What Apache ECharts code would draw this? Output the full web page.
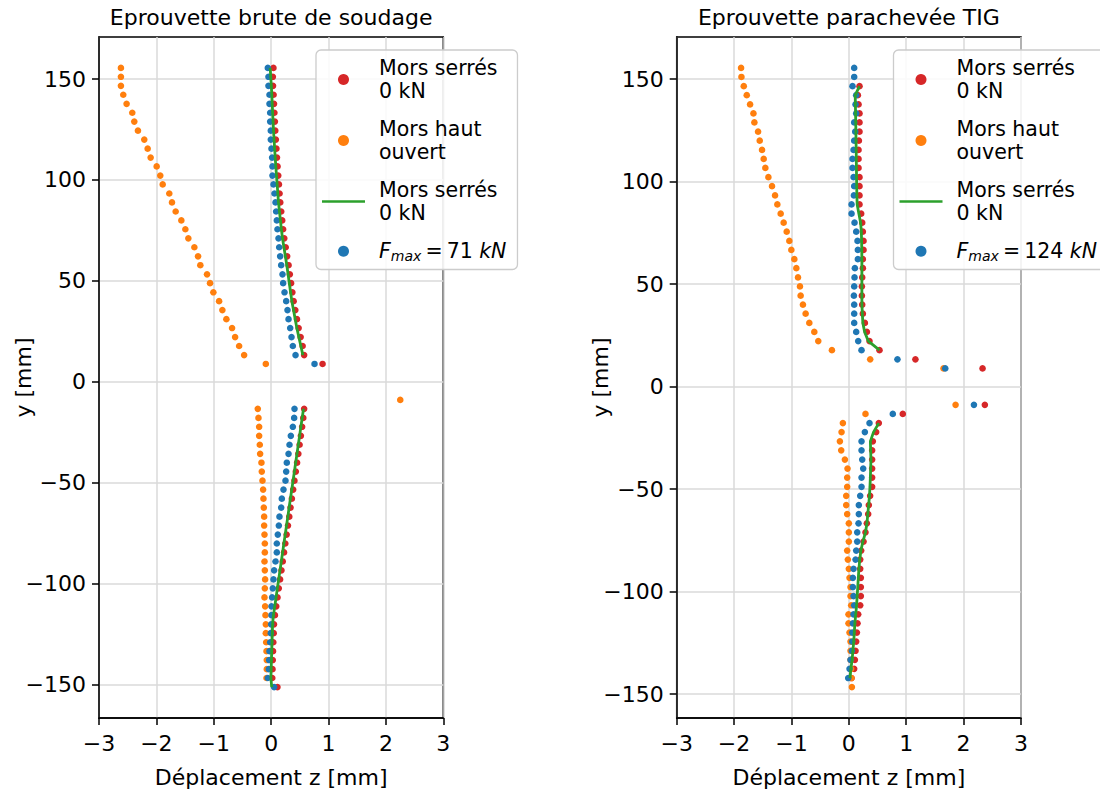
<!DOCTYPE html>
<html>
<head>
<meta charset="utf-8">
<script src="https://cdn.jsdelivr.net/npm/echarts@6.0.0/dist/echarts.min.js"></script>
<style>
html,body{margin:0;padding:0;background:#fff;}
#chart{width:1100px;height:792px;}
</style>
</head>
<body>
<div id="chart"></div>
<script>
// ---------- DATA ----------
// Vertical positions (mm) of the measurement points
var yUpper = [155.5, 151.1, 146.6, 142.2, 137.7, 133.3, 128.9, 124.4, 120.0, 115.5, 111.1, 106.7, 102.2, 97.8, 93.3, 88.9, 84.4, 80.0, 75.6, 71.1, 66.7, 62.2, 57.8, 53.3, 48.9, 44.4, 40.0, 35.6, 31.1, 26.7, 22.2, 17.8, 13.3, 8.9];
var yLower = [-8.9, -13.3, -17.8, -22.2, -26.7, -31.1, -35.6, -40.0, -44.4, -48.9, -53.3, -57.8, -62.2, -66.7, -71.1, -75.6, -80.0, -84.4, -88.9, -93.3, -97.8, -102.2, -106.7, -111.1, -115.5, -120.0, -124.4, -128.9, -133.3, -137.7, -142.2, -146.6, -151.1];

// Left panel: Eprouvette brute de soudage (displacement z, mm)
var leftRedUp = [0.04, 0.03, 0.033, 0.043, 0.05, 0.057, 0.065, 0.072, 0.082, 0.092, 0.102, 0.112, 0.124, 0.136, 0.147, 0.159, 0.176, 0.193, 0.209, 0.229, 0.254, 0.279, 0.304, 0.326, 0.348, 0.37, 0.392, 0.421, 0.45, 0.479, 0.514, 0.549, 0.575, 0.896];
var leftOrangeUp = [-2.618, -2.618, -2.618, -2.577, -2.519, -2.420, -2.385, -2.321, -2.211, -2.152, -2.100, -1.995, -1.932, -1.890, -1.775, -1.728, -1.664, -1.565, -1.495, -1.443, -1.338, -1.274, -1.234, -1.117, -1.065, -1.007, -0.907, -0.850, -0.780, -0.681, -0.628, -0.558, -0.471, -0.093];
var leftGreenUp = [-0.017, -0.007, 0.003, 0.012, 0.019, 0.026, 0.034, 0.041, 0.051, 0.061, 0.071, 0.081, 0.093, 0.105, 0.116, 0.128, 0.145, 0.162, 0.178, 0.198, 0.223, 0.248, 0.273, 0.295, 0.317, 0.339, 0.361, 0.390, 0.419, 0.448, 0.483, 0.518, 0.553, null];
var leftBlueUp = [-0.058, -0.047, -0.047, -0.029, -0.029, -0.017, -0.017, -0.006, -0.006, 0.006, 0.017, 0.023, 0.023, 0.041, 0.058, 0.076, 0.087, 0.099, 0.110, 0.128, 0.140, 0.157, 0.175, 0.198, 0.209, 0.233, 0.262, 0.285, 0.303, 0.332, 0.355, 0.378, 0.425, 0.756];

var leftRedLow = [null, 0.575, 0.560, 0.540, 0.518, 0.496, 0.474, 0.452, 0.430, 0.406, 0.384, 0.361, 0.338, 0.316, 0.293, 0.270, 0.247, 0.225, 0.202, 0.180, 0.156, 0.133, 0.111, 0.089, 0.066, 0.050, 0.044, 0.038, 0.033, 0.028, 0.024, 0.020, 0.110];
var leftOrangeLow = [2.25, -0.233, -0.221, -0.209, -0.209, -0.198, -0.192, -0.169, -0.163, -0.151, -0.140, -0.134, -0.128, -0.122, -0.122, -0.116, -0.110, -0.110, -0.116, -0.110, -0.105, -0.110, -0.116, -0.105, -0.099, -0.093, -0.093, -0.087, -0.081, -0.076, -0.076, -0.081, null];
var leftGreenLow = [null, 0.564, 0.541, 0.518, 0.496, 0.473, 0.450, 0.427, 0.405, 0.382, 0.359, 0.336, 0.313, 0.291, 0.268, 0.245, 0.222, 0.200, 0.177, 0.154, 0.131, 0.108, 0.086, 0.063, 0.040, 0.025, 0.020, 0.015, 0.010, 0.005, 0.000, -0.005, 0.010];
var leftBlueLow = [null, 0.407, 0.401, 0.378, 0.343, 0.320, 0.303, 0.273, 0.262, 0.250, 0.215, 0.186, 0.175, 0.145, 0.134, 0.116, 0.099, 0.099, 0.076, 0.052, 0.041, 0.029, 0.017, 0.006, 0.006, 0.000, -0.006, -0.017, -0.029, -0.035, -0.041, -0.058, 0.052];

// Right panel: Eprouvette parachevée TIG
var rightRedUp = [null, null, 0.186, 0.157, 0.169, 0.186, 0.186, 0.186, 0.175, 0.169, 0.169, 0.169, 0.186, 0.186, 0.186, 0.186, 0.215, 0.233, 0.244, 0.256, 0.256, 0.244, 0.244, 0.233, 0.227, 0.227, 0.233, 0.244, 0.279, 0.314, 0.360, 0.534, 1.160, 2.33];
var rightOrangeUp = [-1.878, -1.872, -1.831, -1.779, -1.721, -1.663, -1.646, -1.582, -1.553, -1.513, -1.484, -1.455, -1.402, -1.339, -1.286, -1.246, -1.188, -1.136, -1.083, -1.037, -1.002, -0.950, -0.915, -0.886, -0.852, -0.840, -0.800, -0.753, -0.689, -0.602, -0.533, -0.295, 0.372, 1.65];
var rightGreenUp = [null, null, 0.186, 0.111, 0.114, 0.117, 0.12, 0.123, 0.125, 0.128, 0.13, 0.132, 0.134, 0.137, 0.14, 0.145, 0.175, 0.205, 0.218, 0.222, 0.225, 0.227, 0.227, 0.227, 0.227, 0.227, 0.228, 0.235, 0.244, 0.275, 0.34, 0.534, null, null];
var rightBlueUp = [0.093, 0.093, 0.064, 0.128, 0.117, 0.128, 0.093, 0.111, 0.093, 0.082, 0.064, 0.064, 0.082, 0.093, 0.088, 0.047, 0.047, 0.099, 0.128, 0.151, 0.157, 0.157, 0.105, 0.099, 0.093, 0.088, 0.093, 0.093, 0.093, 0.128, 0.163, 0.221, 0.847, 1.68];

var rightRedLow = [2.37, 0.940, 0.522, 0.476, 0.418, 0.406, 0.406, 0.406, 0.406, 0.406, 0.371, 0.348, 0.337, 0.314, 0.290, 0.256, 0.215, 0.198, 0.198, 0.209, 0.209, 0.209, 0.198, 0.163, 0.151, 0.140, 0.128, 0.117, 0.105, 0.093, 0.047, null, null];
var rightOrangeLow = [1.86, 0.290, -0.104, -0.127, -0.156, -0.133, -0.069, -0.023, -0.029, -0.029, -0.046, -0.046, -0.029, 0.000, 0.000, 0.000, -0.029, -0.017, 0.000, 0.012, 0.029, 0.029, 0.041, -0.006, -0.006, 0.012, 0.029, 0.029, 0.029, 0.041, 0.046, 0.053, null];
var rightGreenLow = [null, null, 0.522, 0.43, 0.375, 0.38, 0.385, 0.38, 0.375, 0.368, 0.36, 0.345, 0.33, 0.315, 0.29, 0.245, 0.21, 0.19, 0.175, 0.165, 0.155, 0.145, 0.135, 0.12, 0.105, 0.095, 0.085, 0.07, 0.058, 0.035, 0.02, null, null];
var rightBlueLow = [2.18, 0.766, 0.360, 0.279, 0.221, 0.221, 0.233, 0.250, 0.221, 0.221, 0.198, 0.174, 0.174, 0.169, 0.146, 0.146, 0.128, 0.117, 0.082, 0.070, 0.070, 0.082, 0.093, 0.082, 0.070, 0.059, 0.059, 0.053, 0.029, 0.012, -0.011, null, null];

// Ticks and texts
var yTickValues = [-150, -100, -50, 0, 50, 100, 150];
var titles = ['Eprouvette brute de soudage', 'Eprouvette parachevée TIG'];
var fmaxValues = ['71', '124'];
var labelRed = 'Mors serrés\n0 kN';
var labelOrange = 'Mors haut\nouvert';
var labelGreen = 'Mors serrés\n0 kN';
var xName = 'Déplacement z [mm]';
var yName = 'y [mm]';

// ---------- CHART ----------
var FONT = 'DejaVu Sans';
var COLORS = {red: '#d62728', orange: '#ff7f0e', green: '#2ca02c', blue: '#1f77b4'};
var LEG_FS = 20.5;

function pairs(xs, ys) {
  var out = [];
  for (var i = 0; i < xs.length; i++) {
    if (xs[i] !== null && xs[i] !== undefined) out.push([xs[i], ys[i]]);
  }
  return out;
}
function minus(v) { return String(v).replace('-', '\u2212'); }

var panels = [
  {left: 99, yMin: -166.4, yMax: 170.8, red: [leftRedUp, leftRedLow], orange: [leftOrangeUp, leftOrangeLow], green: [leftGreenUp, leftGreenLow], blue: [leftBlueUp, leftBlueLow], legendLeft: 316},
  {left: 676.7, yMin: -161.7, yMax: 170.6, red: [rightRedUp, rightRedLow], orange: [rightOrangeUp, rightOrangeLow], green: [rightGreenUp, rightGreenLow], blue: [rightBlueUp, rightBlueLow], legendLeft: 893.5}
];
var GW = 344.3, GT = 37, GH = 681;

var option = {
  animation: false,
  backgroundColor: '#ffffff',
  title: [], grid: [], xAxis: [], yAxis: [], legend: [], series: []
};

panels.forEach(function (p, i) {
  var pre = i === 0 ? 'L_' : 'R_';
  option.title.push({
    text: titles[i], left: p.left + GW / 2, top: 6, textAlign: 'center', padding: 0,
    textStyle: {fontFamily: FONT, fontSize: 22, fontWeight: 'normal', color: '#000'}
  });
  option.grid.push({
    left: p.left, top: GT, width: GW, height: GH, show: true,
    borderColor: '#000', borderWidth: 1.5, backgroundColor: 'transparent',
    containLabel: false, outerBoundsMode: 'none'
  });
  option.xAxis.push({
    type: 'value', gridIndex: i, min: -3, max: 3, interval: 1,
    name: xName, nameLocation: 'middle', nameGap: 48, nameMoveOverlap: false,
    nameTextStyle: {fontFamily: FONT, fontSize: 22, color: '#000'},
    axisLine: {show: true, onZero: false, lineStyle: {color: '#000', width: 1.5}},
    axisTick: {show: true, inside: false, length: 7, lineStyle: {color: '#000', width: 1.5}},
    axisLabel: {fontFamily: FONT, fontSize: 22, color: '#000', margin: 14, formatter: minus},
    splitLine: {show: true, lineStyle: {color: '#dadada', width: 1.5}}
  });
  option.yAxis.push({
    type: 'value', gridIndex: i, min: p.yMin, max: p.yMax,
    name: yName, nameLocation: 'middle', nameGap: 65, nameMoveOverlap: false,
    nameTextStyle: {fontFamily: FONT, fontSize: 22, color: '#000'},
    axisLine: {show: true, onZero: false, lineStyle: {color: '#000', width: 1.5}},
    axisTick: {show: true, inside: false, length: 7, lineStyle: {color: '#000', width: 1.5}, customValues: yTickValues},
    axisLabel: {fontFamily: FONT, fontSize: 22, color: '#000', margin: 13, formatter: minus, customValues: yTickValues},
    splitLine: {show: true, lineStyle: {color: '#dadada', width: 1.5}}
  });

  var labels = {};
  labels[pre + 'red'] = labelRed;
  labels[pre + 'orange'] = labelOrange;
  labels[pre + 'green'] = labelGreen;
  labels[pre + 'blue'] = '{it|F}{sub|max}{n|\u2009=\u2009' + fmaxValues[i] + ' }{it|kN}';

  option.legend.push({
    orient: 'vertical', left: p.legendLeft, top: 50,
    data: [
      {name: pre + 'red'},
      {name: pre + 'orange'},
      {name: pre + 'green', icon: 'path://M0,0L43,0L43,2.7L0,2.7Z'},
      {name: pre + 'blue'}
    ],
    itemWidth: 43, itemHeight: 11, itemGap: 16,
    padding: [7, 11, 7, 6],
    backgroundColor: 'rgba(255,255,255,0.85)', borderColor: '#cccccc', borderWidth: 1.3, borderRadius: 5,
    selectedMode: false,
    formatter: function (name) { return labels[name]; },
    textStyle: {
      fontFamily: FONT, fontSize: LEG_FS, lineHeight: 22.5, color: '#000', padding: [0, 0, 0, 9],
      rich: {
        it: {fontFamily: FONT, fontSize: LEG_FS, fontStyle: 'italic', color: '#000', lineHeight: 22.5},
        n: {fontFamily: FONT, fontSize: LEG_FS, color: '#000', lineHeight: 22.5},
        sub: {fontFamily: FONT, fontSize: 14, fontStyle: 'italic', color: '#000', lineHeight: 12, verticalAlign: 'bottom'}
      }
    }
  });

  function scatter(key, arrs) {
    return {
      type: 'scatter', name: pre + key, xAxisIndex: i, yAxisIndex: i,
      data: pairs(arrs[0], yUpper).concat(pairs(arrs[1], yLower)),
      symbol: 'circle', symbolSize: 6.6, silent: true,
      itemStyle: {color: COLORS[key], opacity: 1},
      emphasis: {disabled: true}
    };
  }
  function line(arr, ys) {
    return {
      type: 'line', name: pre + 'green', xAxisIndex: i, yAxisIndex: i,
      data: pairs(arr, ys), symbol: 'none', showSymbol: false, silent: true,
      lineStyle: {color: COLORS.green, width: 2.8}, itemStyle: {color: COLORS.green},
      emphasis: {disabled: true}
    };
  }
  option.series.push(scatter('red', p.red));
  option.series.push(scatter('orange', p.orange));
  option.series.push(line(p.green[0], yUpper));
  option.series.push(line(p.green[1], yLower));
  option.series.push(scatter('blue', p.blue));
});

var chart = echarts.init(document.getElementById('chart'), null, {renderer: 'svg', width: 1100, height: 792});
chart.setOption(option);
</script>
</body>
</html>
